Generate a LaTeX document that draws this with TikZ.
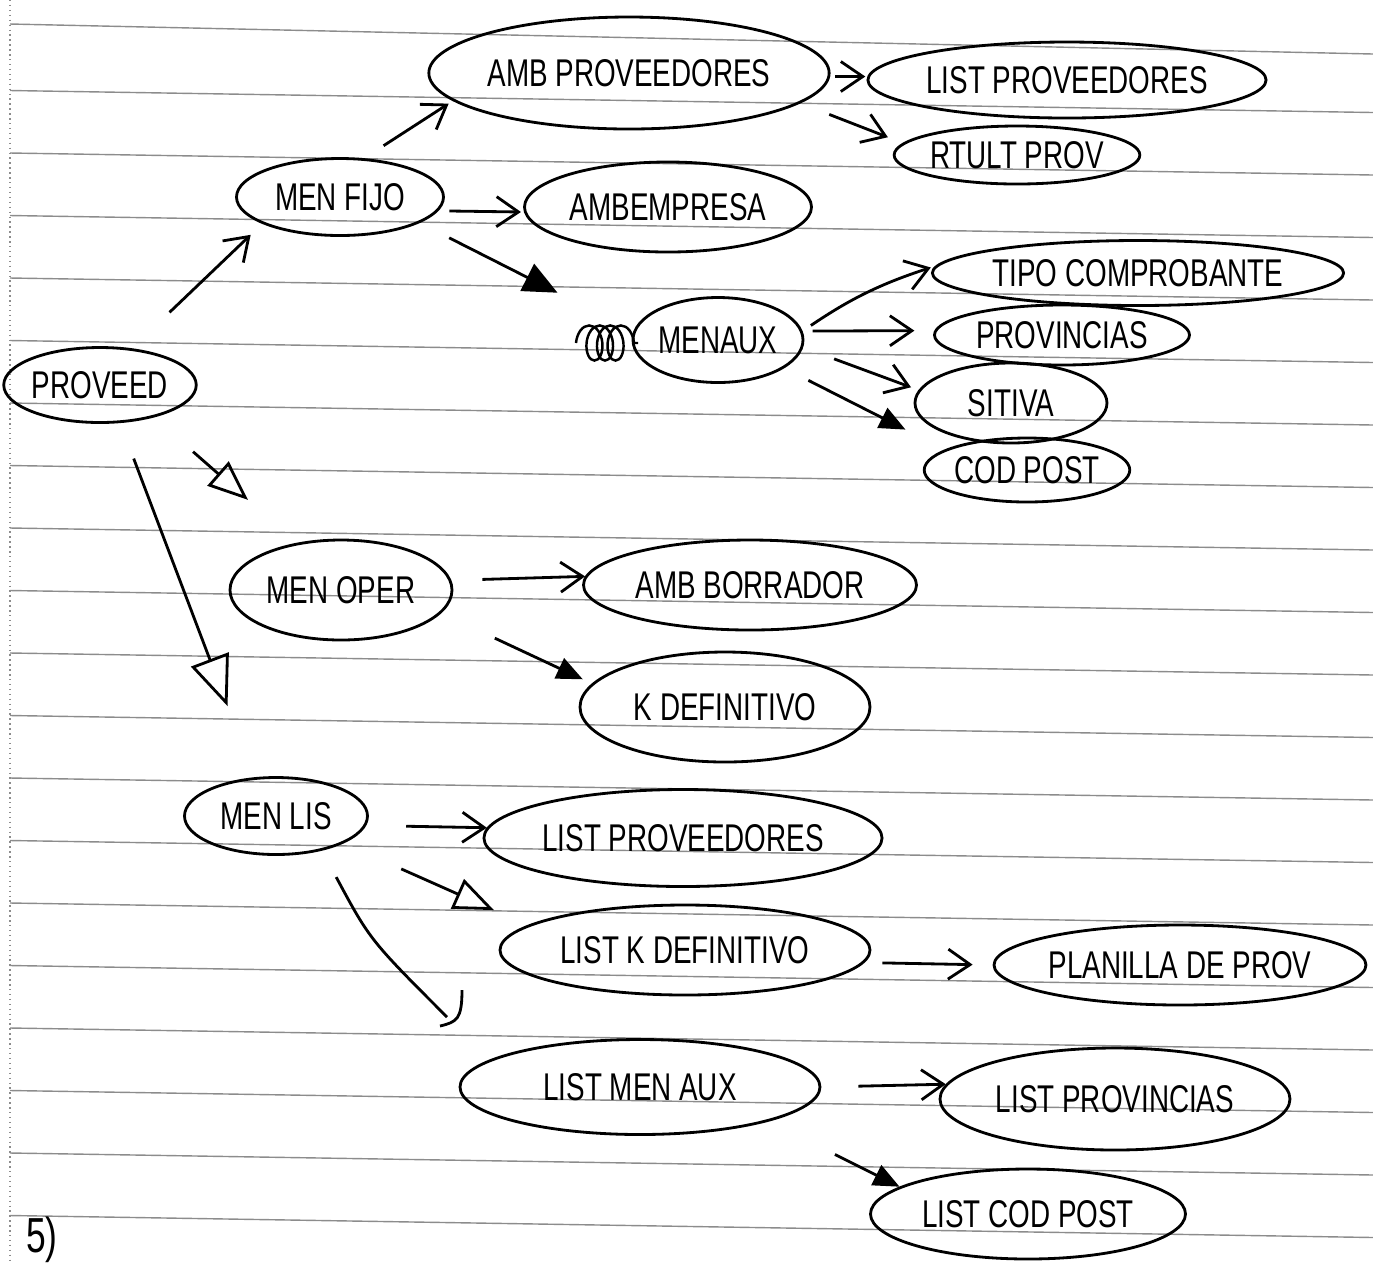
\documentclass[tikz,border=0pt]{standalone}
\usepackage{fontspec}
\setmainfont[FakeStretch=0.72]{Liberation Sans}
\usetikzlibrary{shapes.geometric}
\usetikzlibrary{arrows.meta}
\usetikzlibrary{decorations}
\usetikzlibrary{decorations.pathmorphing}

\begin{document}
\begin{tikzpicture}[scale=1
    , every node/.style={font=\fontsize{11}{13}\selectfont}
    , globo/.style 2 args={ellipse, draw, line width=0.8pt, inner sep=0pt
        , minimum width=#1, minimum height=#2}
    , flecha/.style={line width=0.8pt, -{Straight Barb[length=2.2mm, width=3mm]}}
    , hueca/.style={line width=0.8pt, -{Triangle[open, length=4mm, width=3.2mm]}}
    , llena/.style={line width=0.8pt, -{Triangle[length=2.6mm, width=2.2mm]}}
    , renglon/.style={black!45, line width=0.4pt}
    ]

    \useasboundingbox (0,0) rectangle (13.73,-12.63);

    % the ruled sheet
    \draw[renglon] (0.10,-0.24) -- (13.73,-0.54);
    \foreach \k in {1,...,19}
        \draw[renglon] (0.10,{-0.28-0.625*\k}) -- (13.73,{-0.50-0.625*\k});
    \draw[renglon, densely dotted] (0.10,0) -- (0.10,-12.63);

    %% Here we go.
    \node[globo={1.75cm}{0.75cm}] (proveed) at (1.00,-3.85) {PROVEED};

    % MEN FIJO branch
    \node[globo={2.07cm}{0.77cm}] (menfijo) at (3.40,-1.97) {MEN FIJO};
    \node[globo={3.43cm}{1.12cm}] (ambprov) at (6.29,-0.73) {AMB PROVEEDORES};
    \node[globo={3.35cm}{0.76cm}] (listprov) at (10.67,-0.80) {LIST PROVEEDORES};
    \node[globo={2.29cm}{0.58cm}] (rtult) at (10.17,-1.55) {RTULT PROV};
    \node[globo={2.87cm}{0.90cm}] (ambemp) at (6.68,-2.07) {AMBEMPRESA};
    \node[globo={1.70cm}{0.85cm}] (menaux) at (7.18,-3.40) {MENAUX};
    \node[globo={3.63cm}{0.65cm}] (tipo) at (11.38,-2.73) {TIPO COMPROBANTE};
    \node[globo={2.55cm}{0.60cm}] (provin) at (10.62,-3.35) {PROVINCIAS};
    \node[globo={1.92cm}{0.80cm}] (sitiva) at (10.11,-4.03) {SITIVA};
    \node[globo={1.90cm}{0.64cm}] (codpost) at (10.27,-4.70) {COD POST};

    % crossed out word in front of MENAUX
    \draw[line width=0.7pt
        , decorate
        , decoration={coil, aspect=0.6, segment length=3pt, amplitude=5pt}
    ] (5.76,-3.43) -- (6.38,-3.43);

    % MEN OPER branch
    \node[globo={2.22cm}{1.00cm}] (menoper) at (3.41,-5.90) {MEN OPER};
    \node[globo={3.33cm}{0.90cm}] (ambborr) at (7.50,-5.85) {AMB BORRADOR};
    \node[globo={2.90cm}{1.10cm}] (kdef) at (7.25,-7.07) {K DEFINITIVO};

    % MEN LIS branch
    \node[globo={1.83cm}{0.77cm}] (menlis) at (2.76,-8.16) {MEN LIS};
    \node[globo={3.75cm}{0.97cm}] (listprovb) at (6.83,-8.38) {LIST PROVEEDORES};
    \node[globo={3.70cm}{0.90cm}] (listkdef) at (6.85,-9.50) {LIST K DEFINITIVO};
    \node[globo={3.70cm}{0.80cm}] (planilla) at (11.80,-9.65) {PLANILLA DE PROV};
    \node[globo={3.60cm}{0.95cm}] (listmenaux) at (6.40,-10.87) {LIST MEN AUX};
    \node[globo={3.50cm}{1.02cm}] (listprovin) at (11.15,-10.99) {LIST PROVINCIAS};
    \node[globo={3.15cm}{0.90cm}] (listcodpost) at (10.28,-12.14) {LIST COD POST};

    \node[font=\fontsize{14}{16}\selectfont] (cinco) at (0.42,-12.40) {5)};

    % arrows
    \draw[flecha, shorten <=0.52cm, shorten >=0.16cm] (proveed.49) -- (menfijo.199);
    \draw[flecha, shorten <=0.23cm, shorten >=0.05cm] (menfijo.58) -- (ambprov.189);
    \draw[flecha, shorten <=0.05cm, shorten >=0.02cm] (ambprov.-1) -- (listprov.179);
    \draw[flecha, shorten <=0.31cm, shorten >=0.16cm] (ambprov.-10) -- (rtult.174);
    \draw[flecha, shorten <=0.11cm, shorten >=0.03cm] (menfijo.-8) -- (ambemp.182);
    \draw[llena, -{Triangle[length=3.4mm, width=3mm]}
        , shorten <=0.33cm, shorten >=0.85cm] (menfijo.-18) -- (menaux.174);
    \draw[flecha, shorten <=0.10cm, shorten >=0.05cm] (menaux.6) to[bend left=8] (tipo.178);
    \draw[flecha, shorten <=0.10cm, shorten >=0.20cm] (menaux.6) -- (provin.178);
    \draw[flecha, shorten <=0.33cm, shorten >=0.08cm] (menaux.-5) -- (sitiva.172);
    \draw[llena, shorten <=0.27cm, shorten >=0.44cm] (menaux.-23) -- (codpost.166);

    \draw[hueca, shorten <=0.52cm, shorten >=0.65cm] (proveed.-31) -- (menoper.133);
    \draw[hueca, -{Triangle[open, length=5mm, width=4mm]}
        , shorten <=0.38cm, shorten >=0.76cm] (proveed.-62) -- (menlis.119);
    \draw[flecha, shorten <=0.31cm] (menoper.5) -- (ambborr.177);
    \draw[llena, shorten <=0.59cm, shorten >=0.10cm] (menoper.-13) -- (kdef.170);

    \draw[flecha, shorten <=0.40cm] (menlis.-6) -- (listprovb.177);
    \draw[hueca, shorten <=0.63cm, shorten >=0.37cm] (menlis.-22) -- (listkdef.171);
    % the hooked one down to LIST MEN AUX
    \coordinate (gancho) at (4.47,-10.17);
    \draw[line width=0.8pt, shorten <=0.30cm] (menlis.-37) .. controls (3.70,-9.40) .. (gancho);
    \draw[line width=0.8pt] ([shift={(-0.07,-0.09)}]gancho)
        .. controls ([shift={(0.10,-0.05)}]gancho) and ([shift={(0.15,-0.02)}]gancho)
        .. ([shift={(0.15,0.27)}]gancho);
    \draw[flecha, shorten <=0.18cm, shorten >=0.20cm] (listkdef.-4) -- (planilla.180);
    \draw[flecha, shorten <=0.37cm] (listmenaux.0) -- (listprovin.175);
    \draw[llena, shorten <=0.74cm] (listmenaux.-15) -- (listcodpost.168);

\end{tikzpicture}
\end{document}
